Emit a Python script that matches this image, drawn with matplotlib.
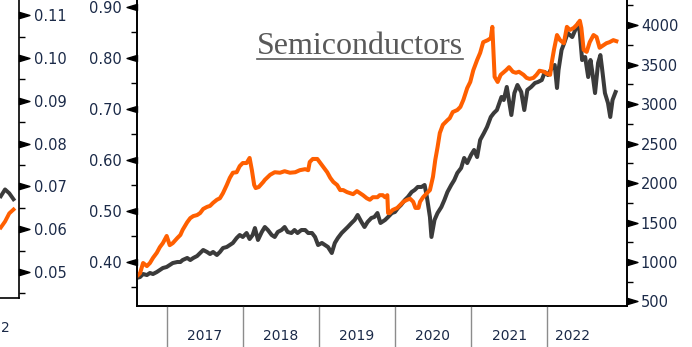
import numpy as np
import matplotlib.pyplot as plt
from matplotlib.path import Path
from matplotlib.ticker import FixedLocator, MultipleLocator
from matplotlib.transforms import blended_transform_factory
from matplotlib.lines import Line2D

# --- series: decimal year, value --------------------------------------------
ratio_dates = [2016.60, 2016.65, 2016.69, 2016.74, 2016.78, 2016.82, 2016.87, 2016.91, 2016.95, 2017.00,
               2017.04, 2017.08, 2017.14, 2017.18, 2017.21, 2017.27, 2017.31, 2017.35, 2017.40, 2017.44,
               2017.48, 2017.53, 2017.57, 2017.61, 2017.66, 2017.70, 2017.74, 2017.79, 2017.83, 2017.87,
               2017.92, 2017.96, 2018.00, 2018.05, 2018.09, 2018.12, 2018.15, 2018.17, 2018.21, 2018.27,
               2018.29, 2018.36, 2018.42, 2018.49, 2018.55, 2018.62, 2018.69, 2018.75, 2018.82, 2018.86,
               2018.88, 2018.92, 2018.98, 2019.02, 2019.06, 2019.11, 2019.15, 2019.19, 2019.24, 2019.28,
               2019.32, 2019.37, 2019.41, 2019.45, 2019.50, 2019.54, 2019.58, 2019.63, 2019.67, 2019.71,
               2019.77, 2019.80, 2019.84, 2019.87, 2019.90, 2019.91, 2019.93, 2019.97, 2020.03, 2020.07,
               2020.11, 2020.16, 2020.20, 2020.24, 2020.27, 2020.31, 2020.33, 2020.37, 2020.42, 2020.46,
               2020.50, 2020.53, 2020.56, 2020.59, 2020.63, 2020.69, 2020.72, 2020.76, 2020.82, 2020.86,
               2020.90, 2020.95, 2020.99, 2021.03, 2021.08, 2021.12, 2021.16, 2021.22, 2021.26, 2021.28,
               2021.31, 2021.35, 2021.39, 2021.46, 2021.50, 2021.55, 2021.59, 2021.63, 2021.69, 2021.73,
               2021.77, 2021.82, 2021.86, 2021.90, 2021.96, 2022.00, 2022.04, 2022.06, 2022.09, 2022.13,
               2022.17, 2022.22, 2022.26, 2022.30, 2022.35, 2022.39, 2022.43, 2022.45, 2022.48, 2022.52,
               2022.56, 2022.61, 2022.65, 2022.69, 2022.74, 2022.78, 2022.82, 2022.87, 2022.91]
ratio_vals = [0.371, 0.378, 0.398, 0.392, 0.398, 0.408, 0.418, 0.429, 0.437, 0.451,
              0.433, 0.437, 0.447, 0.453, 0.463, 0.478, 0.486, 0.490, 0.492, 0.496,
              0.504, 0.508, 0.510, 0.516, 0.522, 0.525, 0.535, 0.551, 0.565, 0.575,
              0.576, 0.588, 0.594, 0.594, 0.604, 0.580, 0.551, 0.545, 0.547, 0.557,
              0.561, 0.571, 0.576, 0.575, 0.578, 0.575, 0.576, 0.580, 0.582, 0.580,
              0.596, 0.602, 0.602, 0.594, 0.586, 0.576, 0.565, 0.557, 0.551, 0.541,
              0.541, 0.537, 0.535, 0.533, 0.539, 0.535, 0.531, 0.525, 0.522, 0.527,
              0.527, 0.531, 0.531, 0.527, 0.531, 0.496, 0.496, 0.502, 0.506, 0.512,
              0.518, 0.522, 0.524, 0.518, 0.506, 0.506, 0.518, 0.527, 0.535, 0.541,
              0.567, 0.600, 0.625, 0.653, 0.669, 0.678, 0.682, 0.694, 0.698, 0.704,
              0.718, 0.741, 0.753, 0.776, 0.796, 0.810, 0.831, 0.835, 0.839, 0.861,
              0.763, 0.753, 0.767, 0.776, 0.782, 0.773, 0.771, 0.773, 0.767, 0.761,
              0.759, 0.761, 0.767, 0.775, 0.773, 0.769, 0.767, 0.790, 0.816, 0.845,
              0.835, 0.829, 0.861, 0.855, 0.859, 0.865, 0.873, 0.859, 0.816, 0.812,
              0.831, 0.845, 0.841, 0.820, 0.825, 0.829, 0.831, 0.835, 0.833]

index_dates = [2016.60, 2016.65, 2016.69, 2016.74, 2016.78, 2016.82, 2016.87, 2016.91, 2016.95, 2017.00,
               2017.04, 2017.08, 2017.14, 2017.18, 2017.21, 2017.27, 2017.31, 2017.35, 2017.40, 2017.44,
               2017.48, 2017.53, 2017.57, 2017.61, 2017.66, 2017.70, 2017.74, 2017.79, 2017.83, 2017.87,
               2017.92, 2017.96, 2018.00, 2018.05, 2018.09, 2018.13, 2018.16, 2018.20, 2018.25, 2018.29,
               2018.33, 2018.38, 2018.42, 2018.46, 2018.51, 2018.55, 2018.59, 2018.64, 2018.68, 2018.72,
               2018.77, 2018.82, 2018.86, 2018.91, 2018.95, 2018.99, 2019.04, 2019.08, 2019.12, 2019.17,
               2019.21, 2019.25, 2019.30, 2019.34, 2019.38, 2019.43, 2019.47, 2019.51, 2019.56, 2019.60,
               2019.64, 2019.69, 2019.73, 2019.77, 2019.81, 2019.87, 2019.91, 2019.96, 2020.00, 2020.04,
               2020.08, 2020.13, 2020.17, 2020.22, 2020.26, 2020.30, 2020.35, 2020.39, 2020.42, 2020.46,
               2020.48, 2020.52, 2020.56, 2020.61, 2020.65, 2020.69, 2020.74, 2020.78, 2020.82, 2020.87,
               2020.91, 2020.95, 2021.00, 2021.04, 2021.08, 2021.12, 2021.17, 2021.21, 2021.26, 2021.30,
               2021.34, 2021.40, 2021.43, 2021.47, 2021.53, 2021.57, 2021.61, 2021.66, 2021.70, 2021.74,
               2021.79, 2021.84, 2021.88, 2021.93, 2021.97, 2022.01, 2022.06, 2022.10, 2022.13, 2022.15,
               2022.19, 2022.23, 2022.27, 2022.33, 2022.37, 2022.41, 2022.43, 2022.46, 2022.50, 2022.54,
               2022.57, 2022.59, 2022.63, 2022.67, 2022.70, 2022.72, 2022.76, 2022.80, 2022.83, 2022.86,
               2022.90]
index_vals = [797, 810, 848, 835, 861, 848, 873, 899, 924, 937,
              962, 987, 1000, 1000, 1025, 1051, 1025, 1051, 1076, 1114,
              1152, 1127, 1101, 1127, 1089, 1127, 1177, 1190, 1215, 1241,
              1304, 1342, 1317, 1367, 1291, 1342, 1430, 1279, 1380, 1443,
              1405, 1342, 1317, 1380, 1405, 1443, 1380, 1367, 1405, 1367,
              1405, 1405, 1367, 1367, 1317, 1215, 1241, 1215, 1190, 1114,
              1241, 1304, 1367, 1405, 1443, 1494, 1532, 1595, 1506, 1443,
              1506, 1557, 1570, 1620, 1494, 1532, 1570, 1620, 1633, 1684,
              1722, 1785, 1823, 1886, 1912, 1950, 1950, 1975, 1823, 1570,
              1317, 1532, 1620, 1696, 1785, 1886, 1975, 2038, 2127, 2190,
              2317, 2253, 2355, 2418, 2329, 2545, 2633, 2709, 2836, 2886,
              2924, 3089, 3051, 3216, 2861, 3139, 3241, 3152, 2924, 3178,
              3216, 3266, 3279, 3304, 3405, 3367, 3456, 3494, 3203, 3431,
              3684, 3785, 3899, 3848, 3937, 4026, 3899, 3557, 3595, 3342,
              3557, 3431, 3139, 3519, 3620, 3469, 3139, 3013, 2836, 3051,
              3152]

# tail end of the neighbouring panel on the left
side_idx = [0, 1, 2, 3]
side_dark = [0.0677, 0.0693, 0.0684, 0.0670]
side_orange = [0.0604, 0.0618, 0.0637, 0.0646]

year_edges = [2017, 2018, 2019, 2020, 2021, 2022]
year_labels = ['2017', '2018', '2019', '2020', '2021', '2022']
year_label_pos = [2017.5, 2018.5, 2019.5, 2020.5, 2021.5, 2022.33]

ORANGE = '#FF5F00'
DARK = '#3B3B3B'
LABEL = '#1b2a48'

# arrow-shaped major tick marks
ARROW_L = Path([(0, 0.3), (-1, 0), (0, -0.3), (0, 0.3)],
               [Path.MOVETO, Path.LINETO, Path.LINETO, Path.CLOSEPOLY])
ARROW_R = Path([(0, 0.3), (1, 0), (0, -0.3), (0, 0.3)],
               [Path.MOVETO, Path.LINETO, Path.LINETO, Path.CLOSEPOLY])


def arrow_ticks(axis, right):
    for t in axis.get_major_ticks():
        line = t.tick2line if right else t.tick1line
        line.set_marker(ARROW_R if right else ARROW_L)
        line.set_markersize(15)


W, H = 692, 347
fig = plt.figure(figsize=(W / 100, H / 100), dpi=100)

# ---- left neighbour panel (only its right edge shows) -----------------------
ax0 = fig.add_axes([-50 / W, 49 / H, 69 / W, 298 / H])
ax0.plot(side_idx, side_orange, color=ORANGE, lw=2.8, zorder=3)
ax0.plot(side_idx, side_dark, color=DARK, lw=2.8, zorder=2)
ax0.set_xlim(-12, 4.3)
ax0.set_ylim(0.04393, 0.11355)
for s in ['left', 'top']:
    ax0.spines[s].set_visible(False)
ax0.spines['right'].set_linewidth(1.2)
ax0.spines['bottom'].set_linewidth(1.2)
ax0.set_xticks([])
ax0.yaxis.tick_right()
ax0.yaxis.set_major_locator(FixedLocator([0.05, 0.06, 0.07, 0.08, 0.09, 0.10, 0.11]))
ax0.yaxis.set_minor_locator(FixedLocator([0.045, 0.055, 0.065, 0.075, 0.085, 0.095, 0.105]))
ax0.yaxis.set_major_formatter(plt.FuncFormatter(lambda v, p: f'{v:.2f}'))
ax0.tick_params(axis='y', which='major', length=8, width=1, pad=3,
                labelsize=10.5, labelcolor=LABEL)
ax0.tick_params(axis='y', which='minor', length=4, width=1)
arrow_ticks(ax0.yaxis, right=True)
# last digit of that panel's final year label
fig.text(0.5 / W, 1 - 328 / H, '2', ha='left', va='center',
         fontsize=10, color=LABEL)

# ---- main panel -------------------------------------------------------------
ax = fig.add_axes([137 / W, 41 / H, 490 / W, 306 / H])
ax2 = ax.twinx()
ax.set_zorder(ax2.get_zorder() + 1)
ax.patch.set_visible(False)

ax2.plot(index_dates, index_vals, color=DARK, lw=2.9, solid_joinstyle='round')
ax.plot(ratio_dates, ratio_vals, color=ORANGE, lw=2.9, solid_joinstyle='round')

ax.set_xlim(2016.61, 2023.05)
ax.set_ylim(0.3137, 0.9137)
ax2.set_ylim(443, 4317)

for a in (ax, ax2):
    a.spines['top'].set_visible(False)
    for s in ['left', 'right', 'bottom']:
        a.spines[s].set_linewidth(1.2)
ax.set_xticks([])
ax2.set_xticks([])

ax.yaxis.set_major_locator(FixedLocator([0.4, 0.5, 0.6, 0.7, 0.8, 0.9]))
ax.yaxis.set_minor_locator(FixedLocator([0.35, 0.45, 0.55, 0.65, 0.75, 0.85]))
ax.yaxis.set_major_formatter(plt.FuncFormatter(lambda v, p: f'{v:.2f}'))
ax.tick_params(axis='y', which='major', length=8, width=1, pad=3,
               labelsize=10.5, labelcolor=LABEL)
ax.tick_params(axis='y', which='minor', length=4, width=1)
arrow_ticks(ax.yaxis, right=False)

ax2.yaxis.set_major_locator(MultipleLocator(500))
ax2.yaxis.set_minor_locator(FixedLocator(np.arange(750, 4300, 500)))
ax2.tick_params(axis='y', which='major', length=8, width=1, pad=2,
                labelsize=10.5, labelcolor=LABEL)
ax2.tick_params(axis='y', which='minor', length=4, width=1)
arrow_ticks(ax2.yaxis, right=True)

# year bands below the plot
trans = blended_transform_factory(ax.transData, ax.transAxes)
for x in year_edges:
    ax.add_line(Line2D([x, x], [0, -0.2], transform=trans, color='#8c8c8c',
                       lw=1, clip_on=False))
for x, lab in zip(year_label_pos, year_labels):
    ax.text(x, -0.098, lab, transform=trans, ha='center', va='center',
            fontsize=10, color=LABEL)

# underlined title
title = fig.text(360 / W, 1 - 54.5 / H, 'Semiconductors', ha='center',
                 va='baseline', fontsize=23, family='Liberation Serif',
                 color='#595959')
fig.canvas.draw()
bb = title.get_window_extent()
uy = (H - 58.5) / H
fig.add_artist(Line2D([bb.x0 / W, bb.x1 / W], [uy, uy], transform=fig.transFigure,
                      color='#595959', lw=1.2))

fig.savefig('out.png', dpi=100)
